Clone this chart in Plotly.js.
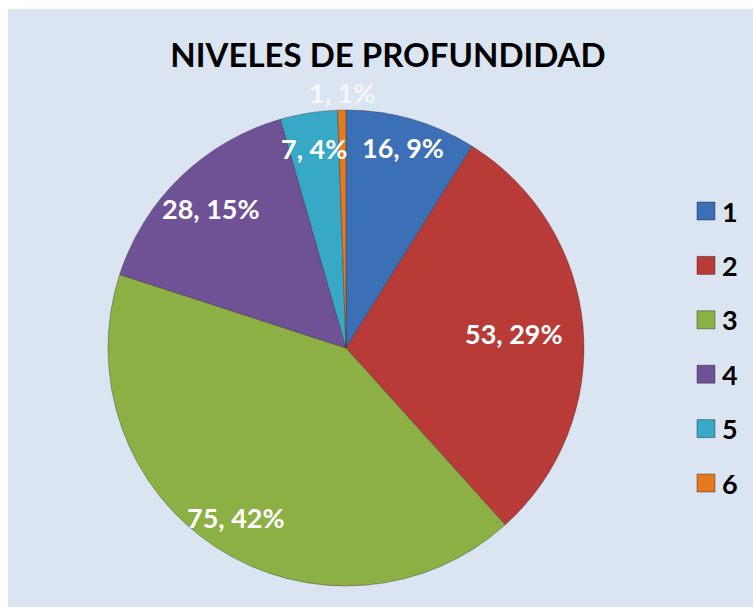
<!DOCTYPE html>
<html>
<head>
<meta charset="utf-8">
<script src="https://cdn.plot.ly/plotly-3.0.1.min.js"></script>
<style>html,body{margin:0;padding:0;background:#fff;}#chart{width:753px;height:607px;}</style>
</head>
<body>
<div id="chart"></div>
<script>
// ---- data ----
const categories = ['1', '2', '3', '4', '5', '6'];
const values = [16, 53, 75, 28, 7, 1];
const percentLabels = ['9%', '29%', '42%', '15%', '4%', '1%'];
const colors = ['#3b6fb6', '#b93b38', '#8cb043', '#6f5196', '#37a8c5', '#e5791f'];
const labelColors = ['#ffffff', '#ffffff', '#ffffff', '#ffffff', '#ffffff', '#f4f7fb'];
const labelRadius = [0.875, 0.71, 0.85, 0.815, 0.85, 1.075];

// ---- layout constants ----
const W = 753, H = 607;
const cx = 346, cy = 348, R = 238; // pixel geometry of pie
const domX = [(cx - R) / W, (cx + R) / W];
const domY = [(H - cy - R) / H, (H - cy + R) / H];
const font = 'Lato, "Open Sans", "DejaVu Sans", sans-serif';

// label annotations placed at slice mid-angles computed from the values
const total = values.reduce((a, b) => a + b, 0);
const annotations = [];
let cum = 0;
values.forEach((v, i) => {
  const mid = (cum + v / 2) / total * 2 * Math.PI; // clockwise from 12 o'clock
  cum += v;
  const r = labelRadius[i] * R;
  annotations.push({
    xref: 'paper', yref: 'paper',
    x: (cx + r * Math.sin(mid)) / W,
    y: (H - cy + r * Math.cos(mid)) / H,
    xanchor: 'center', yanchor: 'middle', showarrow: false,
    text: '<b>' + v + ', ' + percentLabels[i] + '</b>',
    font: {family: font, size: 27, color: labelColors[i]}
  });
});

// manual legend built from categories and colors
const shapes = [{
  type: 'rect', xref: 'paper', yref: 'paper', layer: 'below',
  x0: 8 / W, x1: 1, y0: 0, y1: 1 - 9 / H,
  fillcolor: '#dbe5f1', line: {width: 0}
}];
const legTop = 211, legGap = 54.4, sq = 18, legX = 697;
categories.forEach((c, i) => {
  const yc = legTop + i * legGap;
  shapes.push({
    type: 'rect', xref: 'paper', yref: 'paper',
    x0: legX / W, x1: (legX + sq) / W,
    y0: 1 - (yc + sq / 2) / H, y1: 1 - (yc - sq / 2) / H,
    fillcolor: colors[i], line: {color: 'rgba(0,0,0,0.35)', width: 1}
  });
  annotations.push({
    xref: 'paper', yref: 'paper', x: (legX + sq + 5) / W, y: 1 - yc / H,
    xanchor: 'left', yanchor: 'middle', showarrow: false,
    text: '<b>' + c + '</b>',
    font: {family: font, size: 27, color: '#000'}
  });
});

const trace = {
  type: 'pie',
  labels: categories,
  values: values,
  sort: false,
  direction: 'clockwise',
  rotation: 0,
  textinfo: 'none',
  hoverinfo: 'label+value+percent',
  marker: {colors: colors, line: {color: 'rgba(40,40,40,0.35)', width: 1}},
  domain: {x: domX, y: domY},
  showlegend: false
};

const layout = {
  width: W, height: H,
  margin: {l: 0, r: 0, t: 0, b: 0},
  paper_bgcolor: '#ffffff',
  title: {
    text: '<b>NIVELES DE PROFUNDIDAD</b>',
    x: 388 / W, xanchor: 'center',
    y: 1 - 55 / H, yanchor: 'middle',
    font: {family: font, size: 33, color: '#000'}
  },
  showlegend: false,
  shapes: shapes,
  annotations: annotations
};

Plotly.newPlot('chart', [trace], layout, {displayModeBar: false, staticPlot: true});
</script>
</body>
</html>
